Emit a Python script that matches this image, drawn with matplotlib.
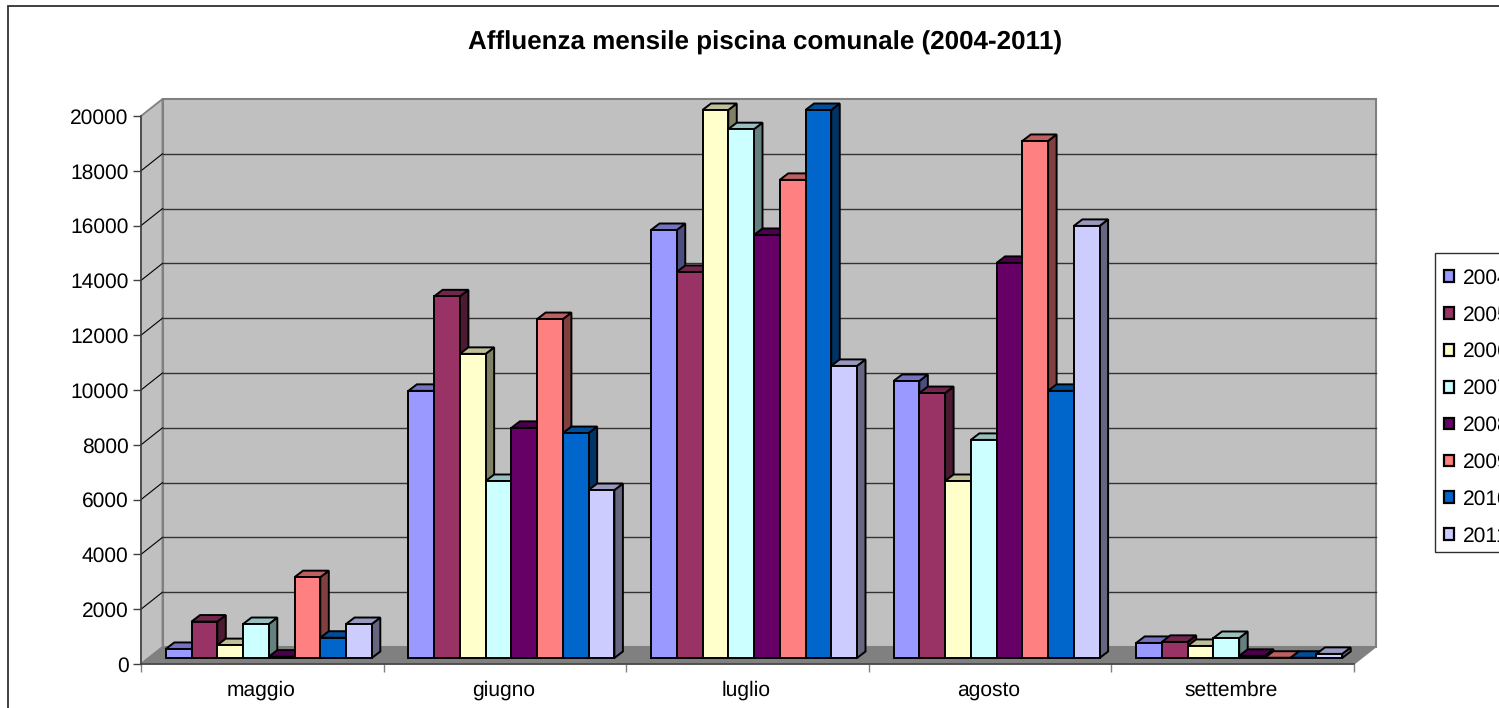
"""Affluenza mensile piscina comunale: Excel-style 3D clustered columns."""
import matplotlib
matplotlib.use("Agg")
import matplotlib.pyplot as plt
from matplotlib.colors import to_rgb
from matplotlib.patches import Patch, Polygon, Rectangle

plt.rcParams["font.family"] = ["Liberation Sans", "DejaVu Sans"]
plt.rcParams["text.hinting"] = "no_hinting"
plt.rcParams["text.hinting_factor"] = 1

months = ["maggio", "giugno", "luglio", "agosto", "settembre"]
years = ["2004", "2005", "2006", "2007", "2008", "2009", "2010", "2011"]
colors = ["#9999FF", "#993366", "#FFFFCC", "#CCFFFF", "#660066", "#FF8080", "#0066CC", "#CCCCFF"]

v2004 = [330, 9750, 15620, 10110, 550]
v2005 = [1330, 13200, 14090, 9670, 590]
v2006 = [470, 11100, 20000, 6460, 440]
v2007 = [1240, 6460, 19300, 7960, 730]
v2008 = [50, 8400, 15440, 14420, 80]
v2009 = [2950, 12370, 17450, 18870, 10]
v2010 = [740, 8210, 20000, 9750, 10]
v2011 = [1240, 6130, 10660, 15770, 150]
series = [v2004, v2005, v2006, v2007, v2008, v2009, v2010, v2011]

W, H, DPI = 1499, 708, 100
FS = 14.8

# layout in pixels of the front plane of the 3D box
LEFT, RIGHT, TOP, BOTTOM = 141, 1354, 116, 664
VMAX = 20000
PX_X = (RIGHT - LEFT) / len(months)      # px per category
PX_Y = (BOTTOM - TOP) / VMAX             # px per value unit

fig = plt.figure(figsize=(W / DPI, H / DPI), dpi=DPI, facecolor="white")
ax = fig.add_axes([LEFT / W, 1 - BOTTOM / H, (RIGHT - LEFT) / W, (BOTTOM - TOP) / H])
ax.set_xlim(0, len(months))
ax.set_ylim(0, VMAX)
ax.patch.set_visible(False)


def dx(px):
    return px / PX_X


def dy(px):
    return px / PX_Y


def shade(color, k):
    return tuple(c * k for c in to_rgb(color))


# walls and floor
BACK_X, BACK_Y = dx(21.5), dy(17)
n = len(months)
GRID = "#808080"
ax.add_patch(Polygon([(0, 0), (0, VMAX), (BACK_X, VMAX + BACK_Y), (BACK_X, BACK_Y)],
                     fc="#C0C0C0", ec=GRID, lw=1.3, clip_on=False, zorder=1))
ax.add_patch(Polygon([(BACK_X, BACK_Y), (BACK_X, VMAX + BACK_Y),
                      (n + BACK_X, VMAX + BACK_Y), (n + BACK_X, BACK_Y)],
                     fc="#C0C0C0", ec=GRID, lw=1.5, clip_on=False, zorder=1))
ax.add_patch(Polygon([(0, 0), (BACK_X, BACK_Y), (n + BACK_X, BACK_Y), (n, 0)],
                     fc="#808080", ec=GRID, lw=1, clip_on=False, zorder=1))

yticks = list(range(0, VMAX + 1, 2000))
for val in yticks[1:-1]:
    ax.plot([0, BACK_X], [val, val + BACK_Y], color="black", lw=0.8, clip_on=False, zorder=2)
    ax.plot([BACK_X, n + BACK_X], [val + BACK_Y] * 2, color="#333333", lw=1.0, clip_on=False, zorder=2)

# columns, painted left to right so each front hides the previous side
BAR_W = dx(25.75)
SHIFT_X, SHIFT_Y = dx(6.5), dy(6)
DEPTH_X, DEPTH_Y = dx(8.5), dy(6.5)
LW = 1.4
z = 3
for m in range(n):
    start = m + 0.5 + SHIFT_X - BAR_W * len(years) / 2
    for i, vals in enumerate(series):
        x0 = start + i * BAR_W
        x1 = x0 + BAR_W
        y0 = SHIFT_Y
        y1 = SHIFT_Y + vals[m]
        ax.add_patch(Polygon([(x1, y0), (x1 + DEPTH_X, y0 + DEPTH_Y),
                              (x1 + DEPTH_X, y1 + DEPTH_Y), (x1, y1)],
                             fc=shade(colors[i], 0.5), ec="black", lw=LW,
                             clip_on=False, zorder=z))
        ax.add_patch(Polygon([(x0, y1), (x0 + DEPTH_X, y1 + DEPTH_Y),
                              (x1 + DEPTH_X, y1 + DEPTH_Y), (x1, y1)],
                             fc=shade(colors[i], 0.75), ec="black", lw=LW,
                             clip_on=False, zorder=z))
        ax.bar(x0, vals[m], BAR_W, bottom=y0, align="edge", color=colors[i],
               edgecolor="black", linewidth=LW, clip_on=False, zorder=z)
        z += 1

# axes
for side in ("top", "right"):
    ax.spines[side].set_visible(False)
for side in ("left", "bottom"):
    ax.spines[side].set_color("#404040")
    ax.spines[side].set_linewidth(1.1)
    ax.spines[side].set_zorder(2)
ax.set_yticks(yticks)
ax.set_yticklabels([str(t) for t in yticks], fontsize=FS, color="black")
ax.tick_params(axis="y", length=6, width=1, color="#404040", pad=3)
ax.set_xticks(range(n + 1))
ax.set_xticklabels([])
ax.set_xticks([i + 0.5 - dx(1.5) for i in range(n)], labels=months, minor=True, fontsize=FS)
ax.tick_params(axis="x", which="major", length=6, width=1, color="#808080")
ax.tick_params(axis="x", which="minor", length=0, pad=12)

fig.text(765.5 / W, 1 - 43 / H, "Affluenza mensile piscina comunale (2004-2011)",
         fontsize=18.6, fontweight="bold", ha="center", va="center")

# chart border runs off the right and bottom of the picture
fig.add_artist(Rectangle((8 / W, -0.1), 1.1, 1.1 - 6 / H, transform=fig.transFigure,
                         fill=False, ec="#303030", lw=1.3))

# legend box also runs off the right edge
fig.add_artist(Rectangle((1435 / W, 1 - 552 / H), 0.1, (552 - 253) / H, transform=fig.transFigure,
                         fc="white", ec="#303030", lw=1.0))
handles = [Patch(fc=c, ec="black", lw=1.6, label=y) for c, y in zip(colors, years)]
leg = fig.legend(handles=handles, loc="upper left",
                 bbox_to_anchor=(1432.3 / W, 1 - 257 / H), borderaxespad=0,
                 fontsize=FS, frameon=False, handlelength=0.5, handleheight=0.5,
                 handletextpad=0.45, labelspacing=0.84, borderpad=0.55)

fig.savefig("out.png", dpi=DPI, facecolor="white")
plt.close(fig)
